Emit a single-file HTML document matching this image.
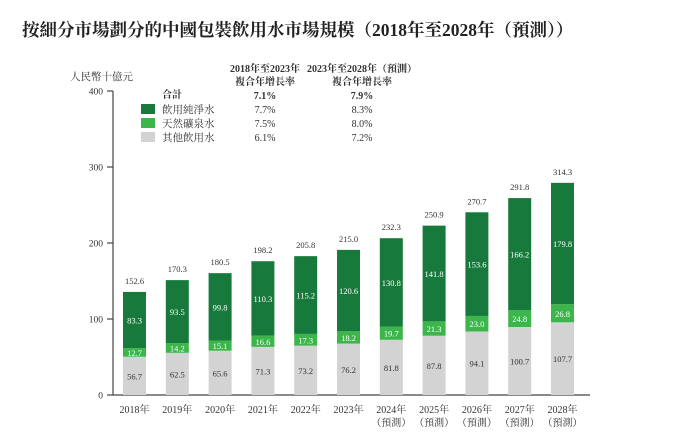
<!DOCTYPE html>
<html><head><meta charset="utf-8"><style>
body{margin:0;background:#fff;}
svg text{font-family:"Liberation Serif","Noto Serif CJK SC","Noto Sans CJK TC",serif;}
</style></head><body>
<svg width="700" height="435" viewBox="0 0 700 435">
<text x="22" y="36" font-size="17.5" font-weight="bold" fill="#222">按細分市場劃分的中國包裝飲用水市場規模（2018年至2028年（預測））</text>
<text x="70" y="80" font-size="10.5" fill="#333">人民幣十億元</text>
<g font-size="10" fill="#333" text-anchor="middle">
<text x="265" y="72" font-weight="bold">2018年至2023年</text>
<text x="265" y="85" font-weight="bold">複合年增長率</text>
<text x="362" y="72" font-weight="bold">2023年至2028年（預測）</text>
<text x="362" y="85" font-weight="bold">複合年增長率</text>
<text x="172" y="98" font-weight="bold">合計</text>
<text x="265" y="99" font-weight="bold">7.1%</text><text x="362" y="99" font-weight="bold">7.9%</text>
<text x="265" y="113">7.7%</text><text x="362" y="113">8.3%</text>
<text x="265" y="127">7.5%</text><text x="362" y="127">8.0%</text>
<text x="265" y="141">6.1%</text><text x="362" y="141">7.2%</text>
</g>
<g font-size="10.5" fill="#333">
<rect x="141" y="104" width="14" height="10" fill="#177a3c"/>
<text x="162" y="113">飲用純淨水</text>
<rect x="141" y="118" width="14" height="10" fill="#3cb54a"/>
<text x="162" y="127">天然礦泉水</text>
<rect x="141" y="132" width="14" height="10" fill="#d3d3d3"/>
<text x="162" y="141">其他飲用水</text>
</g>
<g id="axes"></g>
<g id="bars"></g>
</svg>
<script>
const years=["2018年","2019年","2020年","2021年","2022年","2023年","2024年","2025年","2026年","2027年","2028年"];
const forecast=[false,false,false,false,false,false,true,true,true,true,true];
const other=[56.7,62.5,65.6,71.3,73.2,76.2,81.8,87.8,94.1,100.7,107.7];
const mineral=[12.7,14.2,15.1,16.6,17.3,18.2,19.7,21.3,23.0,24.8,26.8];
const purified=[83.3,93.5,99.8,110.3,115.2,120.6,130.8,141.8,153.6,166.2,179.8];
const totals=[152.6,170.3,180.5,198.2,205.8,215.0,232.3,250.9,270.7,291.8,314.3];
const ticks=[0,100,200,300,400];
const NS="http://www.w3.org/2000/svg";
const y0=395, axisX=113;
function yTick(v){return y0-v*0.76;}
function yBar(v){return y0-v*0.675;}
function xC(i){return 134.5+i*42.8;}
function mk(tag,attrs,parent){const e=document.createElementNS(NS,tag);for(const k in attrs)e.setAttribute(k,attrs[k]);parent.appendChild(e);return e;}
const ax=document.getElementById('axes'), bg=document.getElementById('bars');
let l=mk('line',{x1:axisX,y1:yTick(400),x2:axisX,y2:y0,stroke:'#444','stroke-width':1.2},ax);


l=mk('line',{x1:axisX,y1:y0,x2:590,y2:y0,stroke:'#444','stroke-width':1.2},ax);


ticks.forEach(t=>{
 const tl=mk('line',{x1:axisX-6,y1:yTick(t),x2:axisX,y2:yTick(t),stroke:'#444','stroke-width':1.2},ax);
 
 
 const tx=mk('text',{x:axisX-10,y:yTick(t)+3.5,'font-size':9.5,'text-anchor':'end',fill:'#333'},ax);
 tx.textContent=t;
 
 
});
years.forEach((yr,i)=>{
 const x=xC(i)-11.5,w=23;
 const segs=[[0,other[i],'#d3d3d3','#333','bar-other'],[other[i],mineral[i],'#3cb54a','#fff','bar-mineral'],[other[i]+mineral[i],purified[i],'#177a3c','#fff','bar-purified']];
 segs.forEach(s=>{
  const top=yBar(s[0]+s[1]),bot=yBar(s[0]);
  const r=mk('rect',{x:x,y:top,width:w,height:bot-top,fill:s[2]},bg);
  
  
  const t=mk('text',{x:xC(i),y:(top+bot)/2+3.5,'font-size':8.5,'text-anchor':'middle',fill:s[3]},bg);
  t.textContent=s[1].toFixed(1);
  
  
 });
 const tt=mk('text',{x:xC(i),y:yBar(other[i]+mineral[i]+purified[i])-8,'font-size':8.5,'text-anchor':'middle',fill:'#333'},bg);
 tt.textContent=totals[i].toFixed(1);
 
 
 const yl=mk('text',{x:xC(i),y:413,'font-size':10,'text-anchor':'middle',fill:'#333'},bg);
 yl.textContent=yr;
 
 
 if(forecast[i]){
  const fl=mk('text',{x:xC(i),y:426,'font-size':10,'text-anchor':'middle',fill:'#333'},bg);
  fl.textContent='（預測）';
  
  
 }
});
</script>
</body></html>
